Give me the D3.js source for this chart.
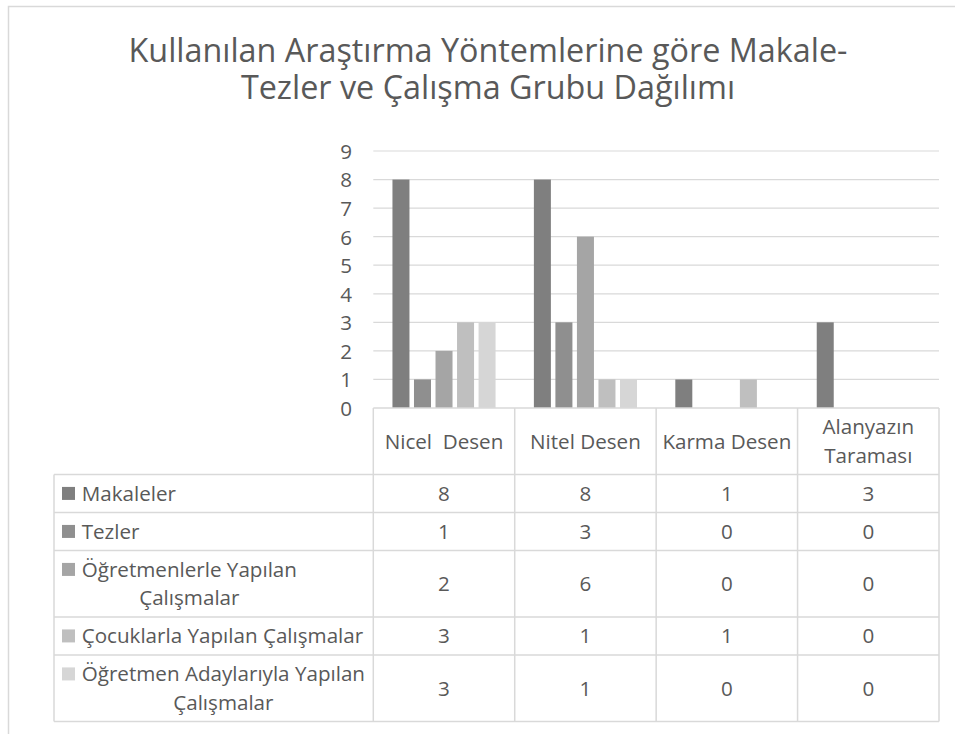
<!DOCTYPE html>
<html>
<head>
<meta charset="utf-8">
<script src="https://cdn.jsdelivr.net/npm/d3@7"></script>
<style>
  body { margin: 0; background: #fff; }
  svg text { font-family: "Open Sans", sans-serif; fill: #595959; white-space: pre; }
</style>
</head>
<body>
<div id="chart"></div>
<script>
// data
var categories = ["Nicel  Desen", "Nitel Desen", "Karma Desen", "Alanyazın Taraması"];
var seriesNames = ["Makaleler", "Tezler", "Öğretmenlerle Yapılan Çalışmalar",
    "Çocuklarla Yapılan Çalışmalar", "Öğretmen Adaylarıyla Yapılan Çalışmalar"];
var makaleler = [8, 8, 1, 3];
var tezler = [1, 3, 0, 0];
var ogretmenlerle = [2, 6, 0, 0];
var cocuklarla = [3, 1, 1, 0];
var adaylariyla = [3, 1, 0, 0];
var yTicks = [0, 1, 2, 3, 4, 5, 6, 7, 8, 9];
var titleLines = ["Kullanılan Araştırma Yöntemlerine göre Makale-", "Tezler ve Çalışma Grubu Dağılımı"];

var seriesValues = [makaleler, tezler, ogretmenlerle, cocuklarla, adaylariyla];
var colors = ["#7f7f7f", "#8f8f8f", "#a5a5a5", "#bfbfbf", "#d6d6d6"];

var width = 955, height = 734;
var svg = d3.select("#chart").append("svg").attr("width", width).attr("height", height);

// measure text width at given size
function measure(txt, size) {
    var t = svg.append("text").style("font-size", size + "px").text(txt);
    var w = t.node().getComputedTextLength();
    t.remove();
    return w;
}
// pick font size so the string is as wide as in the picture
var titleSize = 100 * 719 / measure(titleLines[0], 100);
var fs = 100 * 281.7 / measure("Çocuklarla Yapılan Çalışmalar", 100);
var capOff = fs * 0.36;
var lineH = 28.5;

// outer border
svg.append("rect").attr("x", 8.5).attr("y", 6.5).attr("width", 960).attr("height", 740)
    .attr("fill", "none").attr("stroke", "#d9d9d9").attr("stroke-width", 1.5);

// title
svg.append("g").selectAll("text").data(titleLines).enter().append("text")
    .attr("x", 488).attr("y", function(d, i) { return 62 + i * 36.5; })
    .attr("text-anchor", "middle").style("font-size", titleSize + "px")
    .text(function(d) { return d; });

var plotLeft = 373.3, plotRight = 939, plotTop = 151, plotBottom = 408;
var x0 = d3.scaleBand().domain(categories).range([plotLeft, plotRight]).padding(0);
var x1 = d3.scaleBand().domain(d3.range(seriesNames.length)).range([0, x0.bandwidth()])
    .paddingInner(0.21).paddingOuter(0.89);
var y = d3.scaleLinear().domain([0, 9]).range([plotBottom, plotTop]);

// gridlines
svg.append("g").selectAll("line").data(yTicks.slice(1)).enter().append("line")
    .attr("x1", plotLeft).attr("x2", plotRight)
    .attr("y1", function(d) { return y(d); }).attr("y2", function(d) { return y(d); })
    .attr("stroke", "#d9d9d9").attr("stroke-width", 1.2);

// y axis
var yAxis = svg.append("g").attr("transform", "translate(352,0)")
    .call(d3.axisLeft(y).tickValues(yTicks).tickSize(0).tickPadding(0));
yAxis.select(".domain").remove();
yAxis.selectAll("text").attr("x", 0).attr("dy", null).attr("y", capOff)
    .attr("fill", "#595959").style("font-size", fs + "px").style("font-family", "Open Sans");

// bars
var groups = svg.append("g").selectAll("g").data(categories).enter().append("g")
    .attr("transform", function(d) { return "translate(" + x0(d) + ",0)"; });
groups.selectAll("rect").data(function(d, ci) {
        return seriesValues.map(function(v, si) { return { s: si, v: v[ci] }; });
    }).enter().append("rect")
    .attr("x", function(d) { return x1(d.s); })
    .attr("width", x1.bandwidth())
    .attr("y", function(d) { return y(d.v); })
    .attr("height", function(d) { return y(0) - y(d.v); })
    .attr("fill", function(d) { return colors[d.s]; });

// wrap words into lines
function wrap(txt, maxW) {
    var words = txt.split(" "), lines = [], cur = "";
    words.forEach(function(w) {
        var test = cur ? cur + " " + w : w;
        if (cur && measure(test, fs) > maxW) { lines.push(cur); cur = w; }
        else cur = test;
    });
    if (cur) lines.push(cur);
    return lines;
}
// keep the double space of the first category
function wrapCat(txt) {
    return measure(txt, fs) > 136 ? wrap(txt, 136) : [txt];
}

// data table
var tableLeft = 54;
var catLines = categories.map(wrapCat);
var serLines = seriesNames.map(function(s) { return wrap(s, 290); });
var rows = [];
var rowY = plotBottom;
var hh = 9.5 + lineH * d3.max(catLines, function(l) { return l.length; });
rows.push({ top: rowY, h: hh });
rowY += hh;
serLines.forEach(function(l) {
    var h = 9.5 + lineH * l.length;
    rows.push({ top: rowY, h: h });
    rowY += h;
});
var tableBottom = rowY;

var grid = svg.append("g").attr("stroke", "#d9d9d9").attr("stroke-width", 1.5);
// horizontal lines
grid.append("line").attr("x1", plotLeft).attr("x2", plotRight)
    .attr("y1", plotBottom).attr("y2", plotBottom);
rows.forEach(function(r) {
    grid.append("line").attr("x1", tableLeft).attr("x2", plotRight)
        .attr("y1", r.top + r.h).attr("y2", r.top + r.h);
});
// vertical lines
grid.append("line").attr("x1", tableLeft).attr("x2", tableLeft)
    .attr("y1", rows[1].top).attr("y2", tableBottom);
categories.forEach(function(c) {
    grid.append("line").attr("x1", x0(c)).attr("x2", x0(c))
        .attr("y1", plotBottom).attr("y2", tableBottom);
});
grid.append("line").attr("x1", plotRight).attr("x2", plotRight)
    .attr("y1", plotBottom).attr("y2", tableBottom);

// header text
categories.forEach(function(c, ci) {
    var r = rows[0], lines = catLines[ci];
    var first = r.top + r.h / 2 - (lines.length - 1) * lineH / 2 + capOff;
    svg.append("g").selectAll("text").data(lines).enter().append("text")
        .attr("x", x0(c) + x0.bandwidth() / 2)
        .attr("y", function(d, i) { return first + i * lineH; })
        .attr("text-anchor", "middle").style("font-size", fs + "px")
        .text(function(d) { return d; });
});

// series rows
seriesNames.forEach(function(s, si) {
    var r = rows[si + 1], lines = serLines[si];
    var first = r.top + r.h / 2 - (lines.length - 1) * lineH / 2 + capOff;
    var textX = 81.7;
    var blockW = d3.max(lines, function(l) { return measure(l, fs); });
    svg.append("rect").attr("x", 62).attr("y", first - 14).attr("width", 13).attr("height", 13)
        .attr("fill", colors[si]);
    svg.append("g").selectAll("text").data(lines).enter().append("text")
        .attr("x", textX + blockW / 2)
        .attr("y", function(d, i) { return first + i * lineH; })
        .attr("text-anchor", "middle").style("font-size", fs + "px")
        .text(function(d) { return d; });
    svg.append("g").selectAll("text").data(seriesValues[si]).enter().append("text")
        .attr("x", function(d, ci) { return x0(categories[ci]) + x0.bandwidth() / 2; })
        .attr("y", r.top + r.h / 2 + capOff)
        .attr("text-anchor", "middle").style("font-size", fs + "px")
        .text(function(d) { return d; });
});
</script>
</body>
</html>
